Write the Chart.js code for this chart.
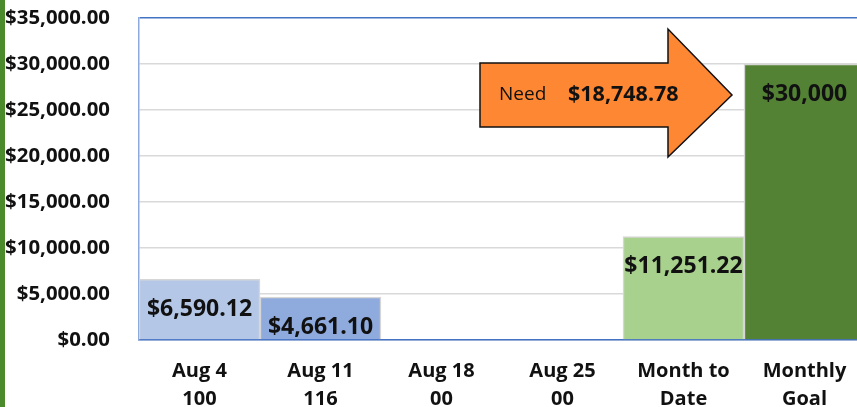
<!DOCTYPE html>
<html>
<head>
<meta charset="utf-8">
<script src="https://cdn.jsdelivr.net/npm/chart.js@4"></script>
<style>
  html, body { margin: 0; padding: 0; background: #fff; overflow: hidden; }
  #clip { width: 857px; height: 407px; overflow: hidden; }
  #wrap { width: 865px; height: 407px; position: relative; }
</style>
</head>
<body>
<div id="clip"><div id="wrap"><canvas id="goalChart"></canvas></div></div>
<script>
// data
const categories = [['Aug 4', '100'], ['Aug 11', '116'], ['Aug 18', '00'], ['Aug 25', '00'], ['Month to', 'Date'], ['Monthly', 'Goal']];
const amounts = [6590.12, 4661.10, 0, 0, 11251.22, 30000];
const amountLabels = ['$6,590.12', '$4,661.10', '', '', '$11,251.22', '$30,000'];
const barColors = ['#b4c7e7', '#8faadc', '#b4c7e7', '#8faadc', '#a9d18e', '#548235'];
const yTicks = [0, 5000, 10000, 15000, 20000, 25000, 30000, 35000];

const goal = amounts[5];
const monthToDate = amounts[4];
const needText = '$' + (goal - monthToDate).toLocaleString('en-US', { minimumFractionDigits: 2, maximumFractionDigits: 2 });

const FONT = "'Open Sans', 'Noto Sans', sans-serif";

// green strip on the left edge
const edgeStrip = {
    id: 'edgeStrip',
    beforeDraw(chart) {
        const c = chart.ctx;
        c.save();
        c.fillStyle = '#4b8b2b';
        c.fillRect(0, 0, 5, chart.height);
        c.restore();
    }
};

// value text inside the bars
const barValues = {
    id: 'barValues',
    afterDatasetsDraw(chart) {
        const c = chart.ctx;
        const meta = chart.getDatasetMeta(0);
        c.save();
        c.font = 'bold 23px ' + FONT;
        c.fillStyle = '#111';
        c.textAlign = 'center';
        c.textBaseline = 'middle';
        meta.data.forEach((bar, i) => {
            if (!amountLabels[i]) return;
            c.fillText(amountLabels[i], bar.x, bar.y + 30);
        });
        c.restore();
    }
};

// the orange "Need" arrow
const needArrow = {
    id: 'needArrow',
    afterDraw(chart) {
        const xs = chart.scales.x, ys = chart.scales.y;
        const w = xs.width / categories.length;
        const tipX = xs.getPixelForValue(5) - w / 2 - 12;
        const left = xs.getPixelForValue(3) - w / 2 - 22;
        const headX = tipX - 64;
        const bodyTop = ys.getPixelForValue(30100);
        const bodyBot = ys.getPixelForValue(23150);
        const headTop = ys.getPixelForValue(33800);
        const headBot = ys.getPixelForValue(19900);
        const midY = (bodyTop + bodyBot) / 2;
        const c = chart.ctx;
        c.save();
        c.beginPath();
        c.moveTo(left, bodyTop);
        c.lineTo(headX, bodyTop);
        c.lineTo(headX, headTop);
        c.lineTo(tipX, midY);
        c.lineTo(headX, headBot);
        c.lineTo(headX, bodyBot);
        c.lineTo(left, bodyBot);
        c.closePath();
        c.fillStyle = '#fd8732';
        c.fill();
        c.lineWidth = 1.5;
        c.strokeStyle = '#111';
        c.stroke();
        c.fillStyle = '#111';
        c.textBaseline = 'middle';
        c.textAlign = 'left';
        c.font = '19px ' + FONT;
        c.fillText('Need', left + 19, midY);
        c.font = 'bold 21.5px ' + FONT;
        c.fillText(needText, left + 88, midY);
        c.restore();
    }
};

new Chart(document.getElementById('goalChart'), {
    type: 'bar',
    data: {
        labels: categories,
        datasets: [{
            data: amounts,
            backgroundColor: barColors,
            borderColor: '#d6d6d6',
            borderWidth: 1.5,
            borderSkipped: 'bottom',
            barPercentage: 1,
            categoryPercentage: 1
        }]
    },
    options: {
        responsive: true,
        maintainAspectRatio: false,
        animation: false,
        layout: { padding: { top: 18, right: 0, bottom: 0, left: 0 } },
        plugins: { legend: { display: false }, tooltip: { enabled: false } },
        scales: {
            x: {
                grid: { display: false, drawTicks: false },
                border: { color: '#4472c4', width: 1.5 },
                ticks: {
                    color: '#111',
                    font: { family: FONT, size: 20, weight: 'bold', lineHeight: 1.4 },
                    padding: 17,
                    maxRotation: 0
                },
                afterFit(scale) {
                    scale.height = 67;
                    scale.paddingLeft = 0;
                    scale.paddingRight = 0;
                }
            },
            y: {
                min: 0,
                max: 35000,
                afterBuildTicks(scale) { scale.ticks = yTicks.map(v => ({ value: v })); },
                grid: {
                    drawTicks: false,
                    lineWidth: 1.5,
                    color: ctx => ctx.tick && ctx.tick.value === 35000 ? '#4472c4' : '#d9d9d9'
                },
                border: { color: '#8ea9db', width: 1.5 },
                ticks: {
                    color: '#111',
                    padding: 29,
                    font: { family: FONT, size: 20.4, weight: 'bold' },
                    callback: v => '$' + Number(v).toLocaleString('en-US', { minimumFractionDigits: 2 })
                },
                afterFit(scale) {
                    scale.width = 139;
                    scale.paddingTop = 0;
                    scale.paddingBottom = 0;
                }
            }
        }
    },
    plugins: [edgeStrip, barValues, needArrow]
});
</script>
</body>
</html>
